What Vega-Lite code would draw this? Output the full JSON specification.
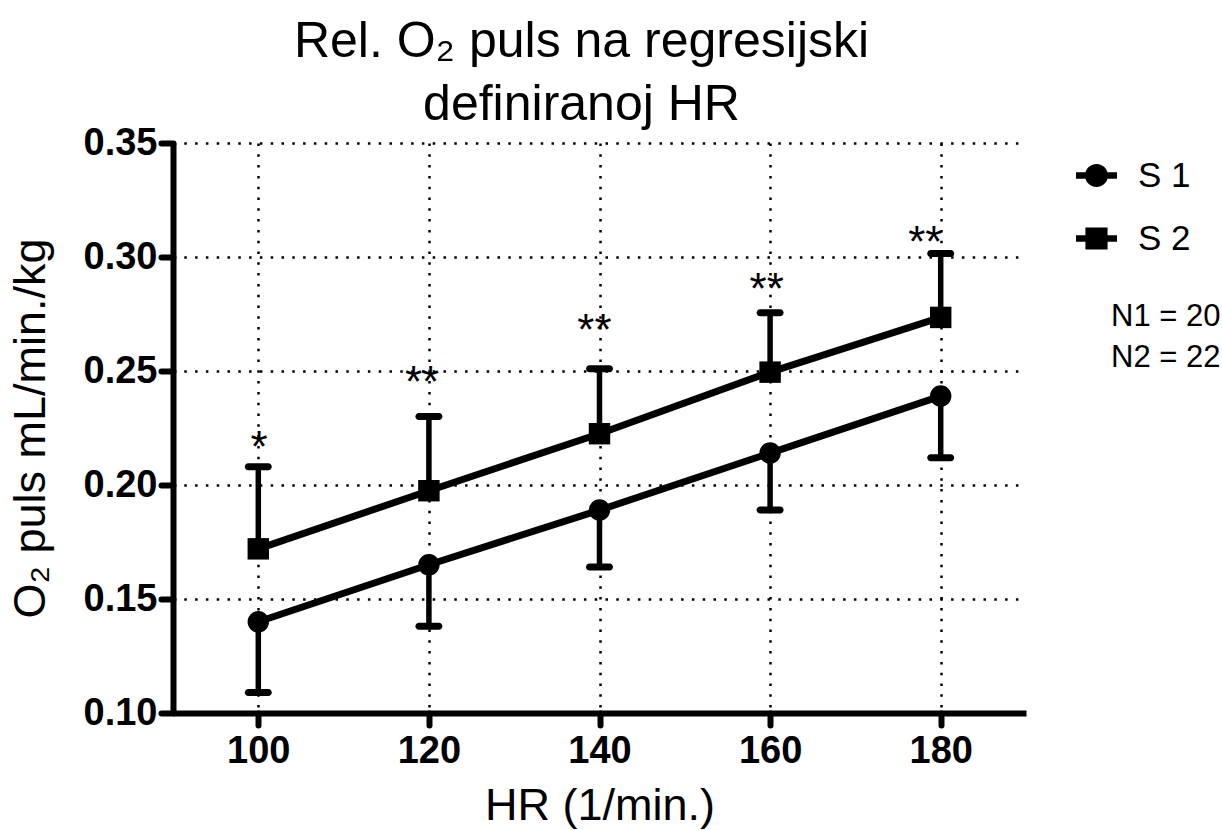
{
  "$schema": "https://vega.github.io/schema/vega-lite/v6.json",
  "autosize": "none",
  "padding": {"left": 173, "top": 143, "right": 196, "bottom": 117},
  "width": 853,
  "height": 570,
  "background": "white",
  "title": {
    "text": ["Rel. O₂ puls na regresijski", "definiranoj HR"],
    "font": "Liberation Sans",
    "fontSize": 50,
    "fontWeight": "normal",
    "color": "black",
    "lineHeight": 63,
    "anchor": "middle",
    "dx": -18,
    "offset": -6
  },
  "config": {
    "view": {"stroke": null},
    "font": "Liberation Sans",
    "axis": {
      "domainColor": "black",
      "domainWidth": 6,
      "tickColor": "black",
      "tickWidth": 6,
      "tickSize": 12,
      "tickCap": "round",
      "labelFont": "Liberation Sans",
      "labelFontSize": 38,
      "labelFontWeight": "bold",
      "labelColor": "black",
      "titleFont": "Liberation Sans",
      "titleFontSize": 45,
      "titleFontWeight": "normal",
      "titleColor": "black",
      "grid": true,
      "gridColor": "black",
      "gridOpacity": 1,
      "gridWidth": 2.5,
      "gridDash": [2.5, 8.3]
    }
  },
  "data": {
    "values": [
      {"hr": 100, "group": "S 1", "mean": 0.140, "err": 0.109},
      {"hr": 120, "group": "S 1", "mean": 0.165, "err": 0.138},
      {"hr": 140, "group": "S 1", "mean": 0.189, "err": 0.164},
      {"hr": 160, "group": "S 1", "mean": 0.214, "err": 0.189},
      {"hr": 180, "group": "S 1", "mean": 0.239, "err": 0.212},
      {"hr": 100, "group": "S 2", "mean": 0.172, "err": 0.208, "star": "*", "star_x": 100.1, "star_y": 0.221},
      {"hr": 120, "group": "S 2", "mean": 0.1975, "err": 0.230, "star": "**", "star_x": 119.2, "star_y": 0.2496},
      {"hr": 140, "group": "S 2", "mean": 0.2225, "err": 0.251, "star": "**", "star_x": 139.4, "star_y": 0.2724},
      {"hr": 160, "group": "S 2", "mean": 0.2495, "err": 0.2755, "star": "**", "star_x": 159.6, "star_y": 0.2904},
      {"hr": 180, "group": "S 2", "mean": 0.2735, "err": 0.3015, "star": "**", "star_x": 178.2, "star_y": 0.311}
    ]
  },
  "resolve": {"scale": {"shape": "independent"}, "legend": {"shape": "independent"}},
  "layer": [
    {
      "mark": {"type": "rule", "color": "black", "strokeWidth": 5.5},
      "encoding": {
        "x": {"field": "hr", "type": "quantitative", "scale": {"domain": [90, 190], "nice": false, "zero": false},
          "axis": {"values": [100, 120, 140, 160, 180], "title": "HR (1/min.)", "labelPadding": 7, "titlePadding": 13}},
        "y": {"field": "mean", "type": "quantitative", "scale": {"domain": [0.10, 0.35], "nice": false, "zero": false},
          "axis": {"values": [0.10, 0.15, 0.20, 0.25, 0.30, 0.35], "format": ".2f", "title": "O₂ puls mL/min./kg", "labelPadding": 4, "titlePadding": 30}},
        "y2": {"field": "err"}
      }
    },
    {
      "mark": {"type": "tick", "orient": "horizontal", "color": "black", "size": 27, "thickness": 7, "cornerRadius": 3.5, "opacity": 1},
      "encoding": {
        "x": {"field": "hr", "type": "quantitative"},
        "y": {"field": "err", "type": "quantitative"}
      }
    },
    {
      "mark": {"type": "line", "color": "black", "strokeWidth": 7},
      "encoding": {
        "x": {"field": "hr", "type": "quantitative"},
        "y": {"field": "mean", "type": "quantitative"},
        "detail": {"field": "group"}
      }
    },
    {
      "mark": {"type": "point", "filled": true, "color": "black", "opacity": 1, "size": 460},
      "encoding": {
        "x": {"field": "hr", "type": "quantitative"},
        "y": {"field": "mean", "type": "quantitative"},
        "shape": {"field": "group", "type": "nominal", "scale": {"domain": ["S 1", "S 2"], "range": ["circle", "square"]}, "legend": null}
      }
    },
    {
      "mark": {"type": "point", "filled": true, "color": "black", "opacity": 0},
      "encoding": {
        "shape": {"field": "group", "type": "nominal",
          "scale": {"domain": ["S 1", "S 2"], "range": [
            "M-1,-0.16H1V0.16H-1ZM-0.56,0A0.56,0.56,0,1,1,0.56,0A0.56,0.56,0,1,1,-0.56,0Z",
            "M-1,-0.16H1V0.16H-1ZM-0.54,-0.54H0.54V0.54H-0.54Z"]},
          "legend": {"title": null, "orient": "none", "legendX": 903, "legendY": 12, "padding": 0,
            "symbolSize": 1681, "symbolStrokeWidth": 0, "symbolFillColor": "black", "symbolOpacity": 1,
            "labelFont": "Liberation Sans", "labelFontSize": 35, "labelColor": "black", "labelOffset": 21, "rowPadding": 24, "labelLimit": 0,
            "encode": {"symbols": {"fill": {"value": "black"}, "opacity": {"value": 1}}}}}
      }
    },
    {
      "transform": [{"filter": "datum.star != null"}],
      "mark": {"type": "text", "color": "black", "font": "Liberation Sans", "fontSize": 44, "baseline": "middle", "align": "center", "dy": 12},
      "encoding": {
        "x": {"field": "star_x", "type": "quantitative"},
        "y": {"field": "star_y", "type": "quantitative"},
        "text": {"field": "star"}
      }
    },
    {
      "data": {"values": [{"n": "N1 = 20"}, {"n": "N2 = 22"}]},
      "mark": {"type": "point", "filled": true, "opacity": 0},
      "encoding": {
        "color": {"field": "n", "type": "nominal", "scale": {"range": ["white", "white"]},
          "legend": {"title": null, "orient": "none", "legendX": 907, "legendY": 158, "padding": 0,
            "symbolSize": 0, "symbolOpacity": 0, "labelOffset": 0, "rowPadding": 9,
            "labelFont": "Liberation Sans", "labelFontSize": 31, "labelColor": "black", "labelLimit": 0}}
      }
    }
  ]
}
